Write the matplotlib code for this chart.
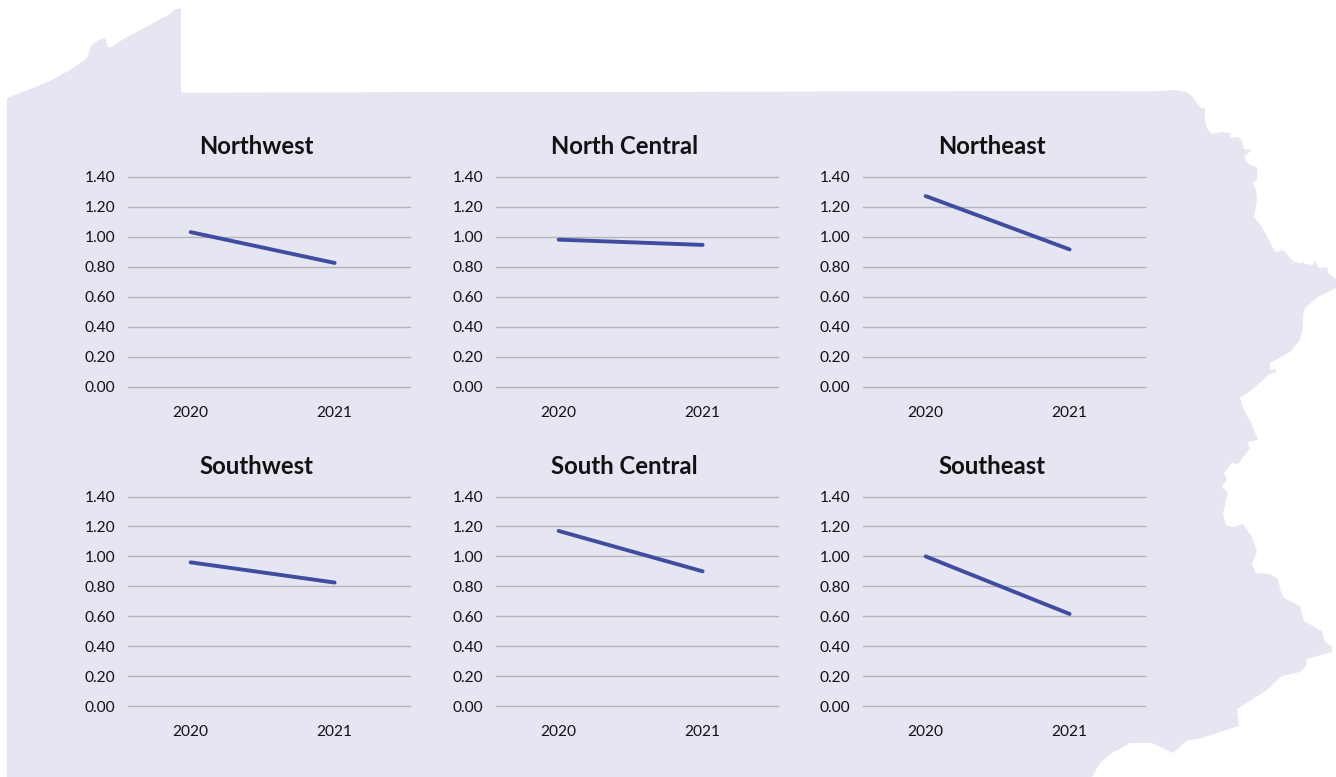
import matplotlib
matplotlib.use("Agg")
import matplotlib.pyplot as plt
from matplotlib.patches import Polygon

plt.rcParams['font.family'] = ['Lato', 'Carlito', 'Open Sans', 'DejaVu Sans']

W, H = 1336, 777

regions = ["Northwest", "North Central", "Northeast", "Southwest", "South Central", "Southeast"]
years = ["2020", "2021"]
northwest = [1.03, 0.825]
north_central = [0.98, 0.945]
northeast = [1.27, 0.915]
southwest = [0.96, 0.825]
south_central = [1.17, 0.90]
southeast = [1.00, 0.615]
series = [northwest, north_central, northeast, southwest, south_central, southeast]
y_ticks = [0.0, 0.2, 0.4, 0.6, 0.8, 1.0, 1.2, 1.4]

BG = "#E6E6F2"
LINE = "#3F4DA0"
GRID = "#B4B4B8"
TEXT = "#111111"

# decorative state silhouette, in pixels of the picture
outline = [
    (7, 777), (7, 98), (25, 91), (50, 81), (70, 70), (85, 60), (88, 56), (90, 48), (93, 44), (97, 41), (104, 38),
    (106, 40), (108, 47), (112, 47), (125, 38), (150, 25), (170, 14), (175, 9), (181, 8.5), (181, 92.5),
    (600, 92), (1090, 91), (1145, 91.5), (1175, 90), (1186, 92), (1193, 97), (1199, 106), (1201, 108), (1205, 108),
    (1205, 120), (1207, 128), (1211, 134), (1216, 133), (1222, 132), (1230, 133), (1230, 138),
    (1238, 137), (1242, 140), (1244, 149), (1252, 150), (1245, 156), (1245, 160), (1250, 165), (1257, 167),
    (1257, 177), (1258, 178), (1253, 183), (1256, 190), (1257, 200), (1254, 217), (1260, 224), (1268, 238),
    (1275, 252), (1283, 250), (1294, 262), (1302, 263), (1303, 261), (1305, 264), (1313, 265), (1314, 260),
    (1319, 268), (1327, 267), (1329, 274), (1336, 279), (1336, 288), (1318, 297), (1305, 308), (1303, 315),
    (1303, 328), (1300, 340), (1290, 352), (1270, 363), (1270, 370), (1276, 369), (1276, 372), (1268, 375),
    (1252, 390), (1240, 398), (1245, 412), (1250, 420), (1258, 440), (1247, 442), (1250, 448), (1238, 464),
    (1232, 463), (1224, 473), (1227, 479), (1222, 487), (1228, 493), (1223, 513), (1226, 525), (1233, 527),
    (1243, 524), (1252, 537), (1257, 552), (1252, 564), (1256, 573), (1270, 574), (1278, 579), (1281, 592),
    (1284, 598), (1300, 606), (1304, 621), (1322, 631), (1325, 642), (1332, 647), (1332, 652), (1307, 659),
    (1306, 666), (1300, 672), (1282, 676), (1267, 690), (1237, 709), (1239, 726), (1198, 739), (1188, 740),
    (1173, 753), (1152, 743), (1130, 743), (1112, 753), (1100, 763), (1092, 777),
]

fig = plt.figure(figsize=(W / 100, H / 100), dpi=100, facecolor="white")
fig.add_artist(Polygon([(x / W, 1 - y / H) for x, y in outline], closed=True,
                       transform=fig.transFigure, facecolor=BG, edgecolor="none", zorder=0))

lefts = [128, 496, 863]
bottoms = [387, 706]
heights = [210.5, 209.5]
axw = 281.5

for i, (name, vals) in enumerate(zip(regions, series)):
    left = lefts[i % 3]
    bottom = bottoms[i // 3]
    axh = heights[i // 3]
    ax = fig.add_axes([left / W, 1 - bottom / H, axw / W, axh / H], facecolor="none")
    ax.plot(years, vals, color=LINE, lw=2.8, solid_capstyle="round", zorder=3)
    ax.set_xlim(-0.435, 1.52)
    ax.set_ylim(0, 1.4)
    ax.set_yticks(y_ticks)
    ax.set_yticklabels([f"{v:.2f}" for v in y_ticks])
    ax.grid(axis="y", color=GRID, lw=1.0)
    ax.grid(axis="x", visible=False)
    ax.set_axisbelow(True)
    for g in ax.get_ygridlines():
        g.set_clip_on(False)
    for s in ax.spines.values():
        s.set_visible(False)
    ax.tick_params(axis="both", length=0, labelsize=11.2, labelcolor=TEXT)
    ax.tick_params(axis="y", pad=9)
    ax.tick_params(axis="x", pad=14)
    ax.text(0.4575, 1.141, name, transform=ax.transAxes, ha="center", va="center",
            fontsize=17.2, fontweight="bold", color=TEXT)

fig.savefig("out.png", dpi=100, facecolor="white")
